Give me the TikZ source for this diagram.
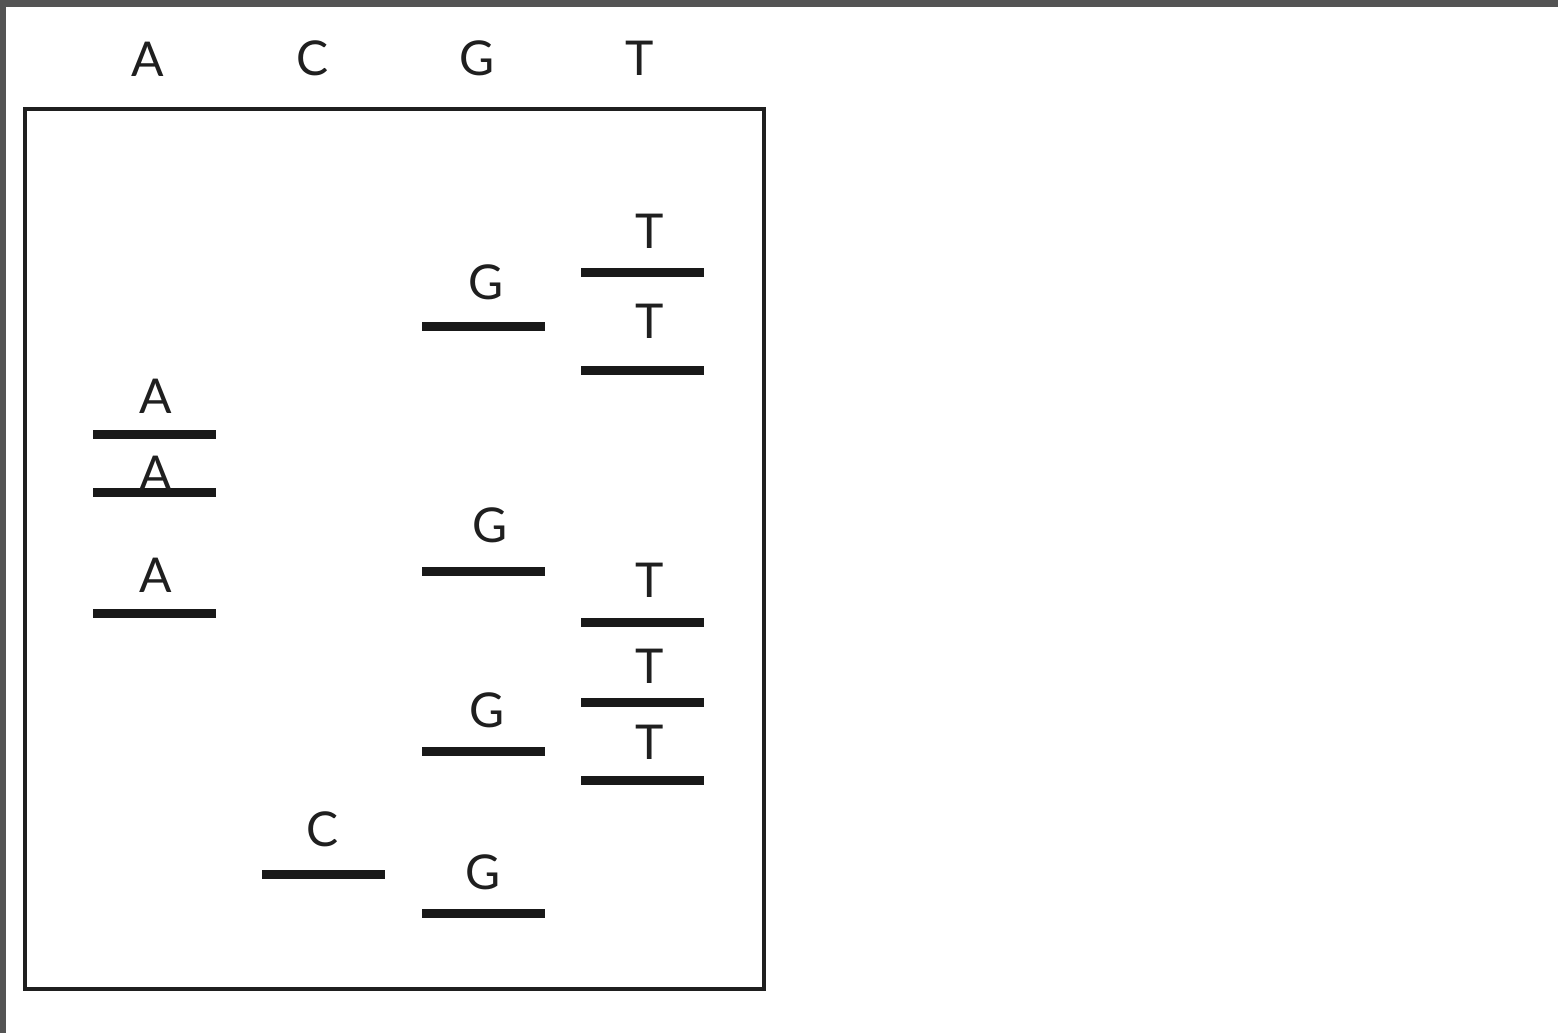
\documentclass[tikz,border=0pt]{standalone}
\usepackage{fontspec}
\setmainfont{Lato}
\begin{document}
\begin{tikzpicture}[x=1pt,y=-1pt,
  lbl/.style={anchor=base,inner sep=0pt,font=\fontsize{48}{48}\selectfont,text=black!88},
  band/.style={line width=9pt,black!90},
  lane/.style={coordinate}]
% canvas and dark edge strips
\fill[white] (0,0) rectangle (1558,1033);
\useasboundingbox (0,0) rectangle (1558,1033);
\fill[black!67] (0,0) rectangle (1558,7);
\fill[black!67] (0,0) rectangle (6,1033);
% gel frame
\draw[line width=4pt,black!88] (25,109) rectangle (764,989);
% lane headers
\node[lbl] (hA) at (148,77) {A};
\node[lbl] (hC) at (313,75) {C};
\node[lbl] (hG) at (477,75) {G};
\node[lbl] (hT) at (640,75) {T};
% bands: lane A
\foreach \n/\y/\ly in {1/434/413, 2/492/490, 3/613/592} {
  \coordinate (a\n l) at (93,\y); \coordinate (a\n r) at (216,\y);
  \draw[band] (a\n l) -- (a\n r);
  \node[lbl] (la\n) at (156,\ly) {A};
}
% bands: lane C
\coordinate (c1l) at (262,874); \coordinate (c1r) at (385,874);
\draw[band] (c1l) -- (c1r);
\node[lbl] (lc1) at (323,846) {C};
% bands: lane G
\foreach \n/\y/\lx/\ly in {1/326/486/299, 2/571/490/542, 3/751/487/727, 4/913/483/889} {
  \coordinate (g\n l) at (422,\y); \coordinate (g\n r) at (545,\y);
  \draw[band] (g\n l) -- (g\n r);
  \node[lbl] (lg\n) at (\lx,\ly) {G};
}
% bands: lane T
\foreach \n/\y/\ly in {1/272/248, 2/370/338, 3/622/597, 4/702/683, 5/780/759} {
  \coordinate (t\n l) at (581,\y); \coordinate (t\n r) at (704,\y);
  \draw[band] (t\n l) -- (t\n r);
  \node[lbl] (lt\n) at (650,\ly) {T};
}
\end{tikzpicture}
\end{document}
